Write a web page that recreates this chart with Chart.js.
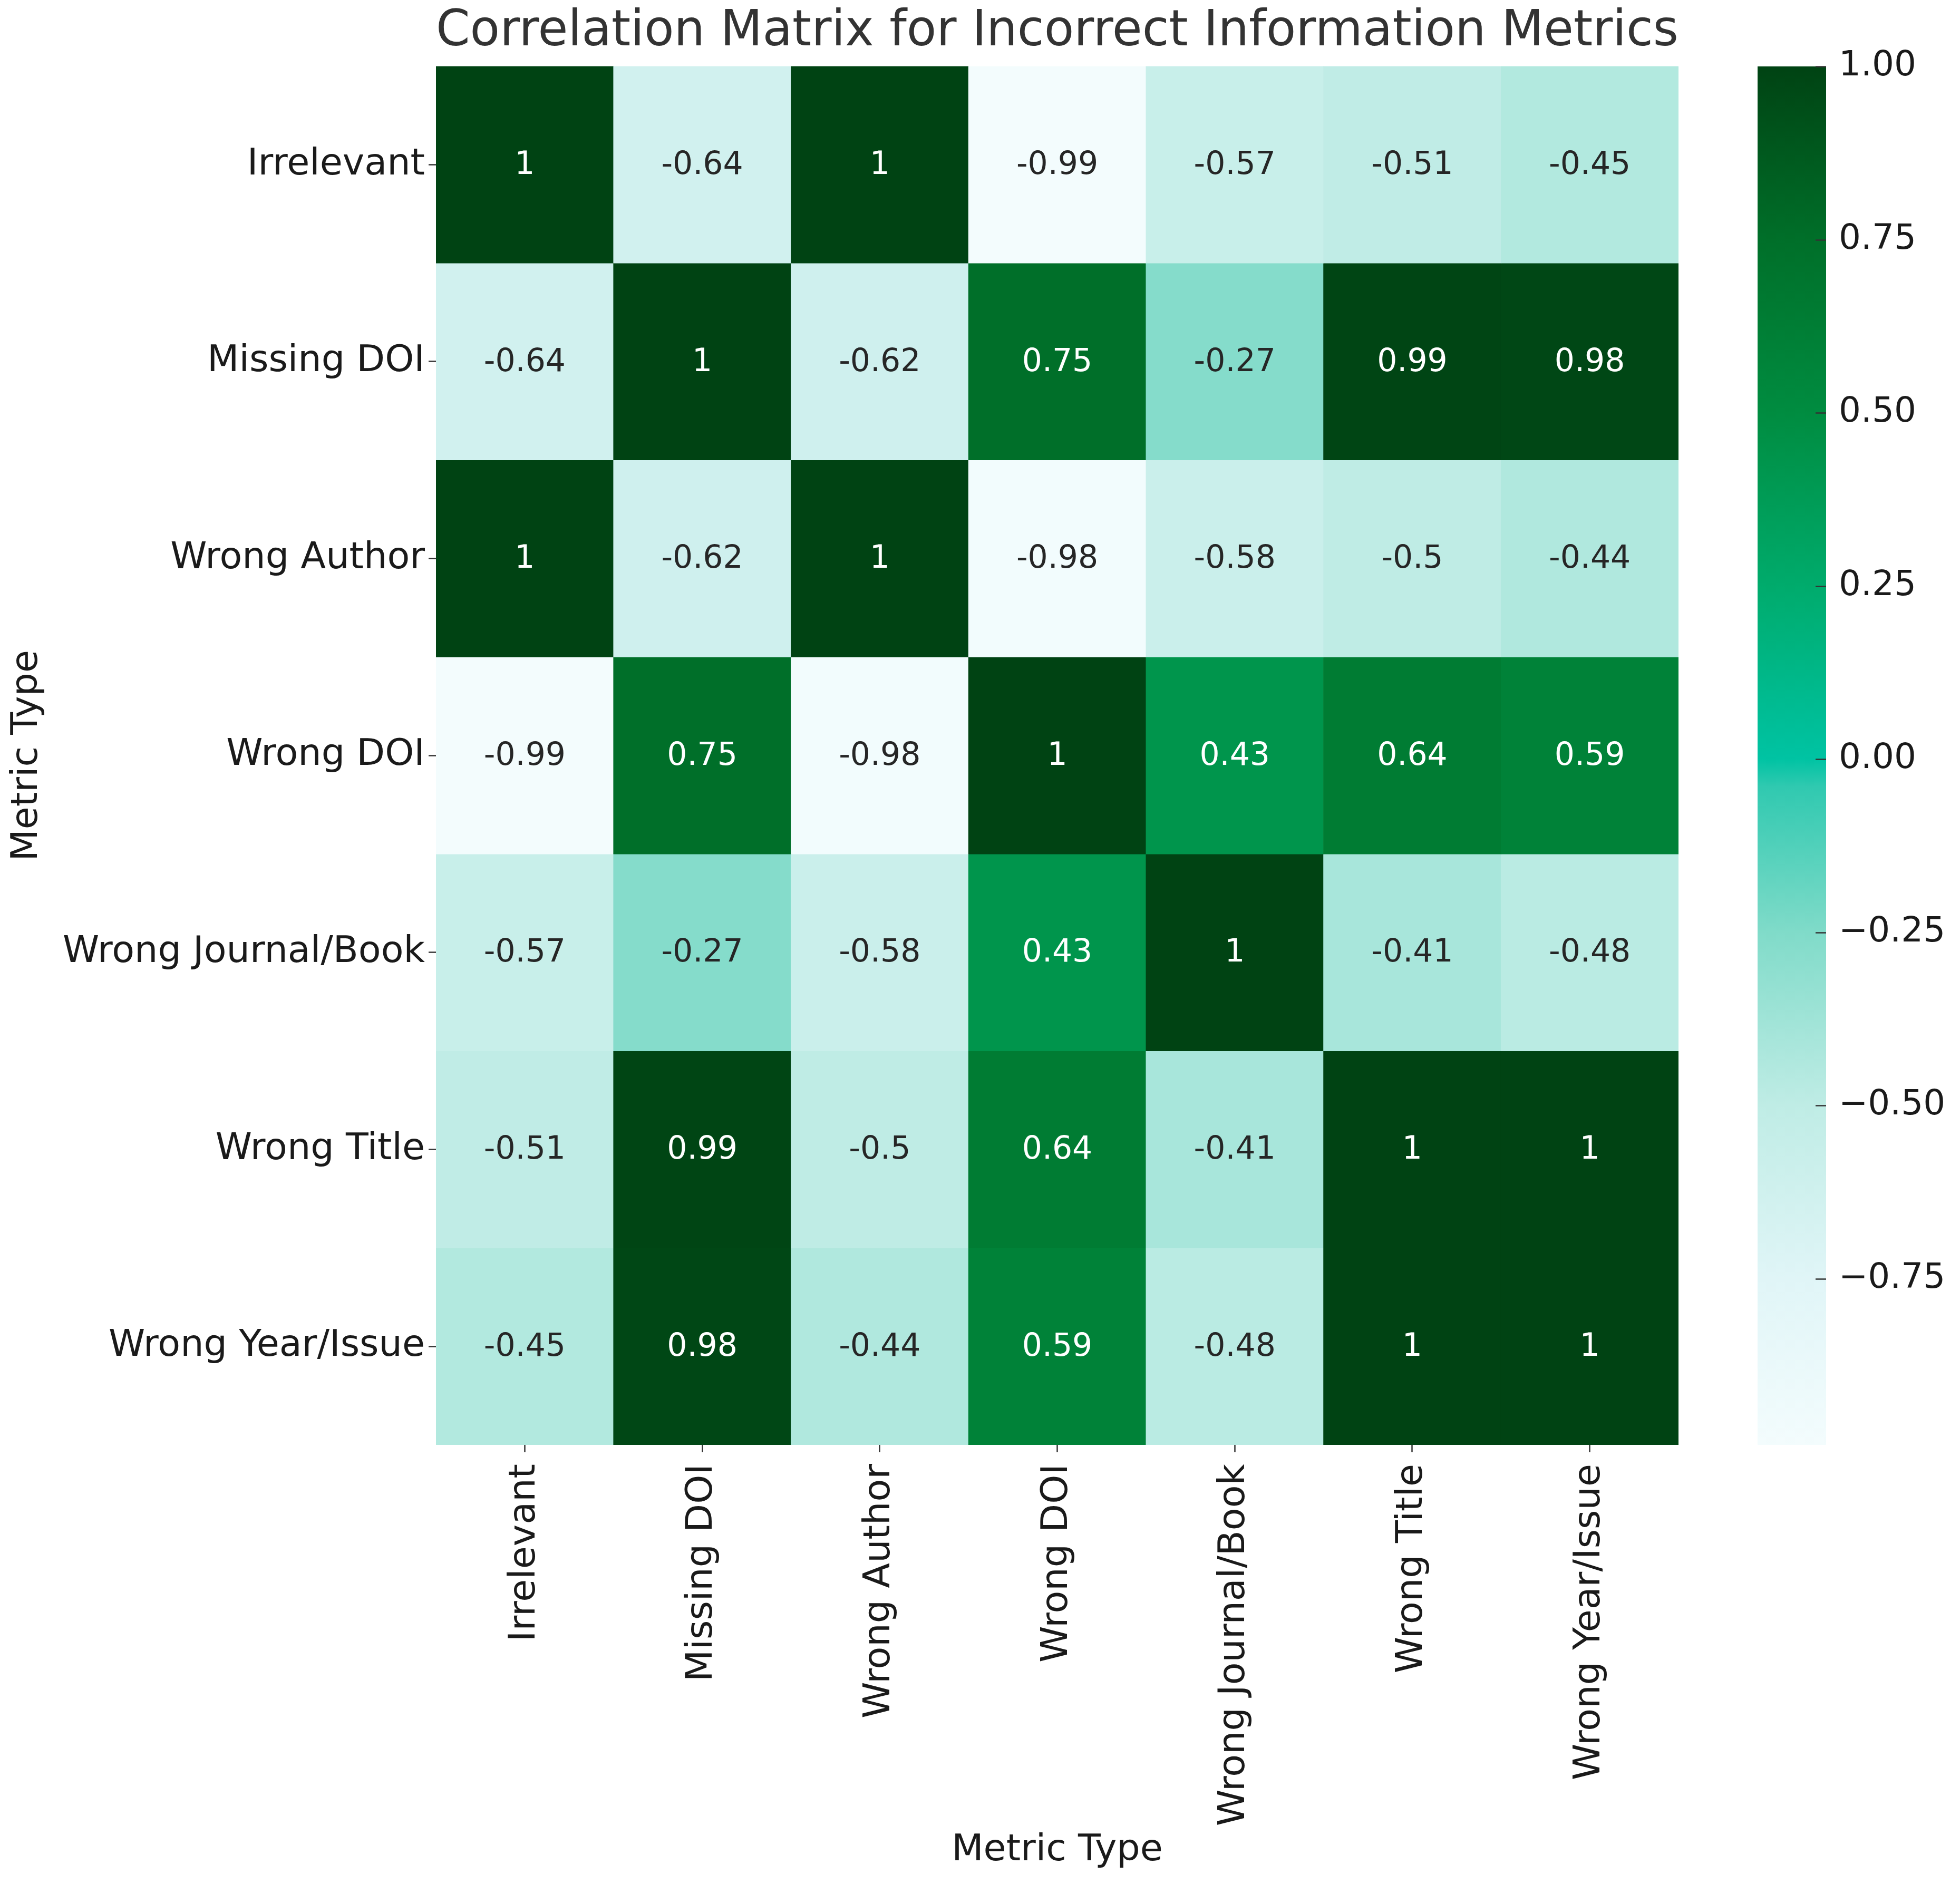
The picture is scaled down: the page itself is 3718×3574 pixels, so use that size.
<!DOCTYPE html>
<html>
<head>
<meta charset="utf-8">
<script src="https://cdn.jsdelivr.net/npm/chart.js@4.4.1/dist/chart.umd.min.js"></script>
<style>
  html, body { margin: 0; padding: 0; background: #fff; overflow: hidden; }
  canvas { position: absolute; left: 0; top: 0; }
</style>
</head>
<body>
<canvas id="heatmap" width="3718" height="3574"></canvas>
<canvas id="colorbar" width="3718" height="3574"></canvas>
<script>
// metric names (rows top to bottom, columns left to right)
const metrics = ["Irrelevant", "Missing DOI", "Wrong Author", "Wrong DOI", "Wrong Journal/Book", "Wrong Title", "Wrong Year/Issue"];

// correlation rows
const irrelevant   = [1, -0.64, 1, -0.99, -0.57, -0.51, -0.45];
const missingDoi   = [-0.64, 1, -0.62, 0.75, -0.27, 0.99, 0.98];
const wrongAuthor  = [1, -0.62, 1, -0.98, -0.58, -0.5, -0.44];
const wrongDoi     = [-0.99, 0.75, -0.98, 1, 0.43, 0.64, 0.59];
const wrongJournal = [-0.57, -0.27, -0.58, 0.43, 1, -0.41, -0.48];
const wrongTitle   = [-0.51, 0.99, -0.5, 0.64, -0.41, 1, 1];
const wrongYear    = [-0.45, 0.98, -0.44, 0.59, -0.48, 1, 1];

const rows = [irrelevant, missingDoi, wrongAuthor, wrongDoi, wrongJournal, wrongTitle, wrongYear];

// colorbar ticks
const colorbarTicks = [-0.75, -0.5, -0.25, 0, 0.25, 0.5, 0.75, 1];

// colormap stops (value -> colour)
const cmapValues = [-0.99, -0.75, -0.5, -0.25, -0.04, 0, 0.25, 0.5, 0.75, 1];
const cmapColors = ["#f3fcfd", "#e0f5f7", "#bfece5", "#80dbc9", "#30c9b0", "#00c3a3", "#00ab6c", "#008c40", "#006f29", "#004313"];

const colorMin = Math.min(...rows.flat());
const colorMax = Math.max(...rows.flat());

function hexToRgb(h) {
    return [parseInt(h.slice(1, 3), 16), parseInt(h.slice(3, 5), 16), parseInt(h.slice(5, 7), 16)];
}

function colorFor(v) {
    if (v <= cmapValues[0]) return hexToRgb(cmapColors[0]);
    for (let i = 1; i < cmapValues.length; i++) {
        if (v <= cmapValues[i]) {
            const t = (v - cmapValues[i - 1]) / (cmapValues[i] - cmapValues[i - 1]);
            const a = hexToRgb(cmapColors[i - 1]);
            const b = hexToRgb(cmapColors[i]);
            return a.map((c, k) => Math.round(c + (b[k] - c) * t));
        }
    }
    return hexToRgb(cmapColors[cmapColors.length - 1]);
}

function rgbStr(c) { return `rgb(${c[0]}, ${c[1]}, ${c[2]})`; }

function luminance(c) {
    const lin = c.map(x => {
        x = x / 255;
        return x <= 0.03928 ? x / 12.92 : Math.pow((x + 0.055) / 1.055, 2.4);
    });
    return 0.2126 * lin[0] + 0.7152 * lin[1] + 0.0722 * lin[2];
}

const FONT = "'DejaVu Sans', sans-serif";
const TEXT = "#1a1a1a";

// cell annotations drawn on top of the bars
const annotate = {
    id: "annotate",
    afterDatasetsDraw(chart) {
        const ctx = chart.ctx;
        ctx.save();
        ctx.font = `60px ${FONT}`;
        ctx.textAlign = "center";
        ctx.textBaseline = "middle";
        chart.data.datasets.forEach((ds, r) => {
            chart.getDatasetMeta(r).data.forEach((el, c) => {
                const v = ds.values[c];
                ctx.fillStyle = luminance(colorFor(v)) > 0.408 ? "#262626" : "#ffffff";
                ctx.fillText(String(v), el.x, (el.y + el.base) / 2 + 2);
            });
        });
        ctx.restore();
    }
};

new Chart(document.getElementById("heatmap"), {
    type: "bar",
    data: {
        labels: metrics,
        datasets: rows.map((row, r) => ({
            label: metrics[r],
            data: row.map(() => [r, r + 1]),
            values: row,
            backgroundColor: row.map(v => rgbStr(colorFor(v))),
            borderWidth: 0,
            barPercentage: 1,
            categoryPercentage: 1,
            grouped: false
        }))
    },
    options: {
        responsive: false,
        devicePixelRatio: 1,
        animation: false,
        layout: { padding: { top: 0, left: 0, right: 534, bottom: 0 } },
        plugins: {
            legend: { display: false },
            tooltip: { enabled: false },
            title: {
                display: true,
                fullSize: false,
                text: "Correlation Matrix for Incorrect Information Metrics",
                color: "#333333",
                font: { family: FONT, size: 95, weight: "normal", lineHeight: 1.1 },
                padding: { top: 9, bottom: 12 }
            }
        },
        scales: {
            x: {
                type: "category",
                offset: true,
                border: { display: false },
                grid: { display: true, offset: false, drawOnChartArea: false, drawTicks: true, tickLength: 14, tickColor: "#333", tickWidth: 2.5 },
                ticks: { color: TEXT, font: { family: FONT, size: 70 }, maxRotation: 90, minRotation: 90, autoSkip: false, padding: 22 },
                title: { display: true, text: "Metric Type", color: TEXT, font: { family: FONT, size: 70 }, padding: { top: 0, bottom: 21 } },
                afterFit(scale) { scale.height = 833; }
            },
            y: {
                type: "linear",
                min: 0,
                max: metrics.length,
                reverse: true,
                border: { display: false },
                grid: { display: true, drawOnChartArea: false, drawTicks: true, tickLength: 14, tickColor: "#333", tickWidth: 2.5 },
                afterBuildTicks(scale) { scale.ticks = metrics.map((m, i) => ({ value: i + 0.5 })); },
                ticks: {
                    color: TEXT,
                    font: { family: FONT, size: 70 },
                    autoSkip: false,
                    padding: 7,
                    callback: (v, i) => metrics[i]
                },
                title: { display: true, text: "Metric Type", color: TEXT, font: { family: FONT, size: 70 }, padding: { top: 10, bottom: 0 } },
                afterFit(scale) { scale.width = 827; }
            }
        }
    },
    plugins: [annotate]
});

// colorbar
const insideTicks = {
    id: "insideTicks",
    afterDatasetsDraw(chart) {
        const ctx = chart.ctx;
        const area = chart.chartArea;
        const ys = chart.scales.y;
        ctx.save();
        ctx.strokeStyle = "#333";
        ctx.lineWidth = 2.5;
        colorbarTicks.forEach(t => {
            const y = Math.round(ys.getPixelForValue(t)) + 0.5;
            ctx.beginPath();
            ctx.moveTo(area.right - 20, y);
            ctx.lineTo(area.right, y);
            ctx.stroke();
        });
        ctx.restore();
    }
};

new Chart(document.getElementById("colorbar"), {
    type: "bar",
    data: {
        labels: [""],
        datasets: [{
            data: [[colorMin, colorMax]],
            borderWidth: 0,
            barPercentage: 1,
            categoryPercentage: 1,
            backgroundColor(context) {
                const chart = context.chart;
                const ys = chart.scales.y;
                if (!chart.chartArea || !ys) return "#00c3a3";
                const y0 = ys.getPixelForValue(colorMin);
                const y1 = ys.getPixelForValue(colorMax);
                const g = chart.ctx.createLinearGradient(0, y0, 0, y1);
                cmapValues.forEach((v, i) => {
                    g.addColorStop(Math.min(1, Math.max(0, (v - colorMin) / (colorMax - colorMin))), cmapColors[i]);
                });
                return g;
            }
        }]
    },
    options: {
        responsive: false,
        devicePixelRatio: 1,
        animation: false,
        layout: { padding: { top: 126, left: 3334, right: 0, bottom: 833 } },
        plugins: { legend: { display: false }, tooltip: { enabled: false } },
        scales: {
            x: { display: false, offset: true },
            y: {
                type: "linear",
                position: "right",
                min: colorMin,
                max: colorMax,
                border: { display: false },
                grid: { display: true, drawOnChartArea: false, drawTicks: false },
                afterBuildTicks(scale) { scale.ticks = colorbarTicks.map(v => ({ value: v })); },
                ticks: {
                    color: TEXT,
                    font: { family: FONT, size: 66 },
                    padding: 24,
                    callback: v => v.toFixed(2).replace("-", "\u2212")
                },
                afterFit(scale) { scale.width = 254; }
            }
        }
    },
    plugins: [insideTicks]
});
</script>
</body>
</html>
